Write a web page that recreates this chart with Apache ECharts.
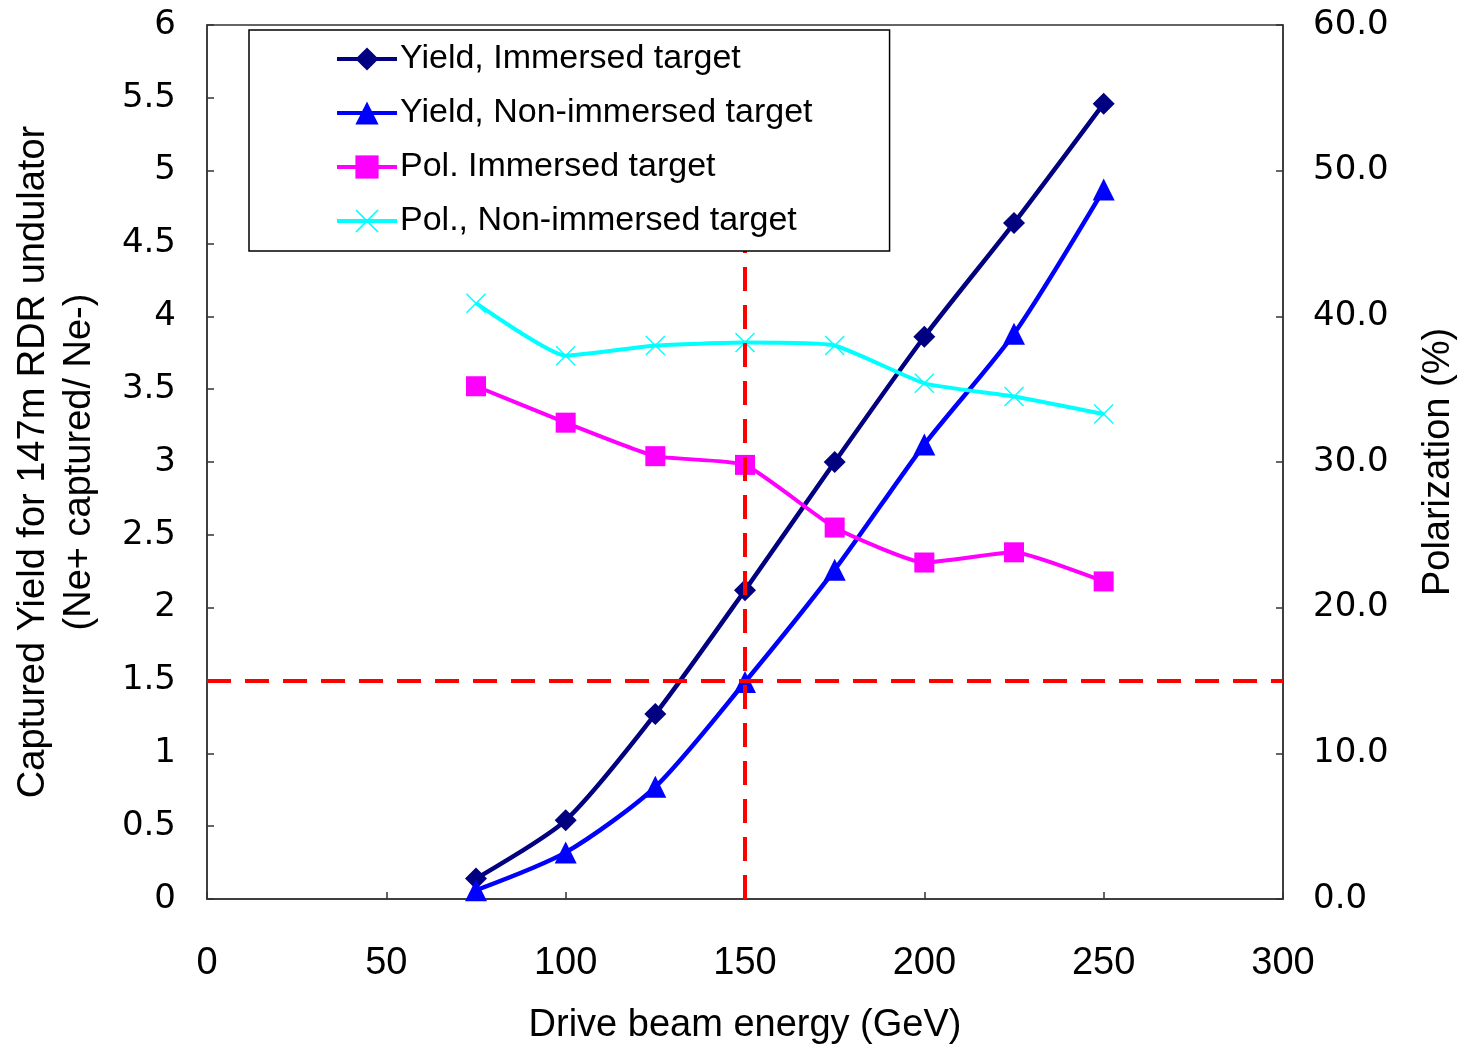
<!DOCTYPE html>
<html><head><meta charset="utf-8">
<script src="https://cdn.jsdelivr.net/npm/echarts@6/dist/echarts.min.js"></script>
<style>html,body{margin:0;padding:0;background:#fff}#c{width:1466px;height:1050px}</style>
</head><body><div id="c"></div>
<script>
var energy = [75, 100, 125, 150, 175, 200, 225, 250];
var yieldImmersed = [0.14, 0.54, 1.27, 2.12, 3.00, 3.86, 4.64, 5.46];
var yieldNonImmersed = [0.06, 0.32, 0.77, 1.49, 2.26, 3.12, 3.88, 4.87];
var polImmersed = [35.2, 32.7, 30.4, 29.8, 25.5, 23.1, 23.8, 21.8];
var polNonImmersed = [40.9, 37.3, 38.0, 38.2, 38.0, 35.4, 34.5, 33.3];
var names = ['Yield, Immersed target', 'Yield, Non-immersed target', 'Pol. Immersed target', 'Pol., Non-immersed target'];
var yieldTarget = 1.5;
var energyTarget = 150;

function pairs(xs, ys){ return xs.map(function(x,i){ return [x, ys[i]]; }); }
var sans = '"Liberation Sans", Arial, sans-serif';
var wide = '"DejaVu Sans", Verdana, sans-serif';
var crossPath = 'path://M0,1 L1,0 L10,9 L19,0 L20,1 L11,10 L20,19 L19,20 L10,11 L1,20 L0,19 L9,10 Z';

var chart = echarts.init(document.getElementById('c'));
chart.setOption({
  animation: false,
  backgroundColor: '#fff',
  grid: { left: 207, right: 178, top: 25, bottom: 141, show: true, borderColor: '#333', borderWidth: 1.5, backgroundColor: 'transparent' },
  legend: {
    orient: 'vertical', left: 249, top: 30, z: 50, zlevel: 1,
    padding: [12, 77, 13, 86],
    itemGap: 20, itemWidth: 60, itemHeight: 29,
    backgroundColor: '#fff', borderColor: '#000', borderWidth: 1.5,
    lineStyle: { width: 4 },
    textStyle: { fontFamily: sans, fontSize: 34, color: '#000', padding: [0, 0, 0, -2] },
    data: names
  },
  xAxis: {
    type: 'value', min: 0, max: 300, interval: 50,
    name: 'Drive beam energy (GeV)', nameLocation: 'middle', nameGap: 108,
    nameTextStyle: { fontFamily: sans, fontSize: 38, color: '#000' },
    axisLine: { show: true, lineStyle: { color: '#333', width: 1.5 } },
    axisTick: { show: true, inside: true, length: 7, lineStyle: { color: '#333', width: 1.5 } },
    axisLabel: { fontFamily: sans, fontSize: 38, color: '#000', margin: 46 },
    splitLine: { show: false }
  },
  yAxis: [{
    type: 'value', min: 0, max: 6, interval: 0.5, position: 'left',
    name: 'Captured Yield for 147m RDR undulator\n(Ne+ captured/ Ne-)', nameLocation: 'middle', nameGap: 104, nameRotate: 90,
    nameTextStyle: { fontFamily: sans, fontSize: 38, color: '#000', lineHeight: 46, align: 'center' },
    axisLine: { show: true, lineStyle: { color: '#333', width: 1.5 } },
    axisTick: { show: true, inside: true, length: 7, lineStyle: { color: '#333', width: 1.5 } },
    axisLabel: { fontFamily: wide, fontSize: 34, color: '#000', margin: 31 },
    splitLine: { show: false }
  }, {
    type: 'value', min: 0, max: 60, interval: 10, position: 'right',
    name: 'Polarization (%)', nameLocation: 'middle', nameGap: 137, nameRotate: 90,
    nameTextStyle: { fontFamily: sans, fontSize: 38, color: '#000' },
    axisLine: { show: true, lineStyle: { color: '#333', width: 1.5 } },
    axisTick: { show: true, inside: true, length: 7, lineStyle: { color: '#333', width: 1.5 } },
    axisLabel: { fontFamily: wide, fontSize: 34, color: '#000', margin: 30,
      formatter: function(v){ return v.toFixed(1); } },
    splitLine: { show: false }
  }],
  series: [{
    name: names[0], type: 'line', yAxisIndex: 0, smooth: 0.25,
    data: pairs(energy, yieldImmersed),
    symbol: 'diamond', symbolSize: 22,
    lineStyle: { color: '#000080', width: 4.5 }, itemStyle: { color: '#000080' },
    markLine: {
      silent: true, symbol: 'none', label: { show: false },
      lineStyle: { color: '#FF0000', width: 4, type: [24, 14] },
      data: [{ yAxis: yieldTarget }, { xAxis: energyTarget }]
    }
  }, {
    name: names[1], type: 'line', yAxisIndex: 0, smooth: 0.25,
    data: pairs(energy, yieldNonImmersed),
    symbol: 'triangle', symbolSize: 22,
    lineStyle: { color: '#0000FF', width: 4.5 }, itemStyle: { color: '#0000FF' }
  }, {
    name: names[2], type: 'line', yAxisIndex: 1, smooth: 0.15,
    data: pairs(energy, polImmersed),
    symbol: 'rect', symbolSize: 20,
    lineStyle: { color: '#FF00FF', width: 4 }, itemStyle: { color: '#FF00FF' }
  }, {
    name: names[3], type: 'line', yAxisIndex: 1, smooth: 0.15,
    data: pairs(energy, polNonImmersed),
    symbol: crossPath, symbolSize: 20,
    lineStyle: { color: '#00FFFF', width: 4 }, itemStyle: { color: '#00FFFF' }
  }]
});
</script></body></html>
